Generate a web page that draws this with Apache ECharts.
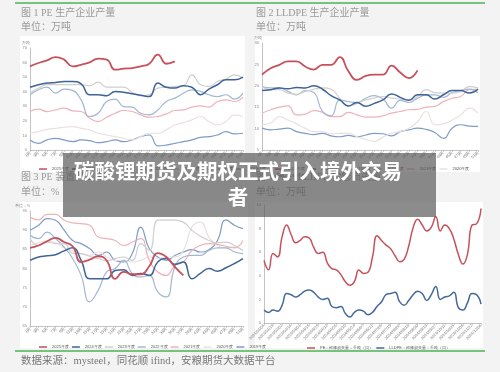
<!DOCTYPE html>
<html>
<head>
<meta charset="utf-8">
<script src="https://cdn.jsdelivr.net/npm/echarts@6/dist/echarts.min.js"></script>
<style>
html, body { margin: 0; padding: 0; background: #f3f3f3; }
#main { width: 500px; height: 372px; }
</style>
</head>
<body>
<div id="main"></div>
<script>
// 周度横轴
var weeks = ['1周','3周','5周','7周','9周','11周','13周','15周','17周','19周','21周','23周','25周',
	'27周','29周','31周','33周','35周','37周','39周','41周','43周','45周','47周','49周','51周'];
var years = ['2025年度','2024年度','2023年度','2022年度','2021年度','2020年度','2019年度'];

// 图1 PE 生产企业产量
var pe2025 = [57.4,59.7,61.5,63.8,62.0,57.4,58.5,60.1,62.7,62.0,55.1,55.8,56.2,57.4,59.2,65.4,59.2,60.8];
var pe2024 = [43.1,44.8,45.9,46.4,47.0,47.0,45.4,37.9,37.9,37.2,40.2,39.7,38.6,37.6,36.7,45.9,43.1,42.5,44.1,43.1,37.9,41.8,44.8,48.2,48.2,50.0];
var pe2023 = [39.0,42.5,44.8,44.8,44.8,44.8,44.8,44.1,46.6,43.1,43.1,43.1,39.5,37.2,37.9,42.5,43.1,43.6,44.1,51.6,44.8,43.6,47.0,48.7,51.6,49.3];
var pe2022 = [37.9,41.3,43.1,39.0,41.8,40.9,34.4,23.0,25.2,33.3,34.9,29.8,29.4,25.2,24.1,27.5,33.3,35.6,39.0,41.3,40.2,37.9,36.7,37.9,34.9,39.0];
var pe2021 = [26.4,28.0,26.4,27.5,28.7,26.9,26.4,21.8,19.5,22.5,25.2,27.1,26.4,24.1,22.5,23.0,24.8,27.1,27.5,29.4,30.3,29.4,33.3,34.4,33.3,36.3];
var pe2020 = [11.5,12.6,14.2,14.9,15.6,16.1,14.9,13.8,11.5,10.3,9.2,8.0,6.9,9.2,11.5,11.5,13.8,17.2,18.8,20.7,23.0,19.5,17.2,19.5,24.1,23.0];
var pe2019 = [6.9,4.6,6.9,8.0,6.9,5.7,6.9,6.4,5.0,5.7,6.9,5.7,6.9,9.2,10.3,2.8,3.4,4.6,5.7,6.9,8.7,9.2,10.3,12.6,11.0,11.5];

// 图2 LLDPE 生产企业产量
var ll2025 = [22.6,24.1,24.9,25.7,25.7,24.5,23.8,24.9,24.9,26.7,23.4,21.4,22.3,22.6,22.6,24.7,23.1,21.8,23.6];
var ll2024 = [18.9,19.1,19.5,19.3,19.6,19.5,20.0,19.2,17.7,16.7,15.3,16.1,15.2,15.9,16.7,18.1,17.3,16.6,17.9,17.9,16.9,17.9,18.9,18.9,18.3,19.2];
var ll2023 = [19.8,19.1,19.1,18.3,18.0,18.7,19.2,19.5,19.2,17.1,15.2,15.9,16.7,17.1,17.5,17.1,16.9,16.7,17.5,19.1,18.4,18.3,18.3,18.7,19.8,19.5];
var ll2022 = [19.8,19.5,19.5,18.7,17.9,18.9,18.4,14.0,13.0,16.7,16.3,16.1,17.1,17.7,16.9,14.8,16.6,16.1,17.1,17.9,17.9,17.3,18.4,18.9,19.2,18.3];
var ll2021 = [13.6,14.4,15.0,15.3,13.2,13.4,14.2,13.8,12.8,12.8,13.8,13.2,12.7,12.7,13.0,13.6,14.0,14.4,14.5,15.0,15.2,16.3,17.1,17.5,19.1,19.2];
var ll2020 = [10.9,11.3,12.8,12.0,11.1,10.1,9.3,9.3,8.8,8.9,8.9,8.1,7.5,7.0,8.0,8.9,9.3,10.1,11.6,14.0,10.9,11.1,12.0,13.2,14.8,13.6];
var ll2019 = [10.1,9.7,9.9,10.1,9.3,8.9,8.6,8.9,8.3,8.1,8.4,8.1,8.5,8.9,8.8,8.3,9.3,9.7,10.1,9.8,9.1,7.7,10.1,10.9,10.6,10.5];

// 图3 PE 装置开工率
var kg2025 = [85.4,86.0,87.1,88.0,86.9,85.8,81.7,82.3,83.2,82.1,77.3,79.1,78.5,78.5,80.6,84.0,83.0,80.4,78.2];
var kg2024 = [82.1,83.0,83.3,83.6,84.6,85.4,82.1,77.3,77.3,77.3,79.5,79.7,78.2,78.7,78.2,81.7,82.6,81.1,81.7,77.3,78.7,80.0,79.3,80.2,81.3,82.6];
var kg2023 = [87.8,86.0,86.9,86.5,86.5,84.0,83.9,83.2,82.6,82.0,82.6,83.0,82.1,86.5,84.7,92.6,92.6,92.6,92.1,90.0,88.4,87.3,86.7,86.9,86.0,84.7];
var kg2022 = [88.7,87.8,89.5,87.8,85.6,82.6,78.2,71.3,74.3,79.1,80.0,82.1,78.7,77.8,78.2,73.9,72.6,80.4,83.0,83.4,83.4,84.7,85.4,85.4,84.3,83.9];
var kg2021 = [93.4,92.7,94.1,94.1,92.6,91.9,91.7,91.3,88.2,87.8,87.3,86.0,86.9,87.8,82.1,79.1,78.2,80.8,81.7,84.7,86.0,86.5,86.3,85.8,85.4,87.3];
var kg2020 = [86.0,86.7,87.2,86.7,85.4,84.6,83.9,83.4,84.3,83.0,82.1,82.1,81.7,82.1,83.0,82.6,83.0,83.0,84.7,90.8,92.1,88.2,86.0,85.4,85.6,84.7];
var kg2019 = [90.0,91.3,93.0,92.6,90.0,87.3,86.5,85.2,83.4,84.3,82.1,81.7,83.9,90.8,85.2,83.0,82.1,83.4,84.3,84.9,84.3,84.9,87.3,92.7,91.3,90.4];

// 图4 检修损失量
var lossDates = ['2024/01/05','2024/01/12','2024/01/19','2024/01/26','2024/02/02','2024/02/09','2024/02/16','2024/02/23',
	'2024/03/01','2024/03/08','2024/03/15','2024/03/22','2024/03/29','2024/04/05','2024/04/12','2024/04/19','2024/04/26',
	'2024/05/03','2024/05/10','2024/05/17','2024/05/24','2024/05/31','2024/06/07','2024/06/14','2024/06/21','2024/06/28',
	'2024/07/05','2024/07/12','2024/07/19','2024/07/26','2024/08/02','2024/08/09','2024/08/16','2024/08/23','2024/08/30',
	'2024/09/06','2024/09/13','2024/09/20','2024/09/27','2024/10/04','2024/10/11','2024/10/18','2024/10/25','2024/11/01',
	'2024/11/08','2024/11/15','2024/11/22','2024/11/29','2024/12/06'];
var peLoss = [5.3,4.5,5.9,5.6,7.3,8.3,7.5,6.8,7.0,7.3,7.2,6.4,5.9,6.0,5.1,4.6,4.5,4.1,3.5,3.2,3.5,4.5,4.2,4.3,5.6,
	7.4,7.0,6.6,6.3,5.7,5.2,5.4,6.5,8.1,8.8,8.3,7.8,8.1,9.0,7.8,8.3,8.0,7.1,5.8,5.0,5.8,8.3,8.4,9.7];
var llLoss = [1.1,0.9,1.1,1.0,1.5,2.5,2.4,2.2,2.4,2.7,2.8,2.6,2.2,2.0,2.1,1.4,1.3,1.4,0.8,0.5,0.9,1.1,1.0,0.7,0.9,
	1.4,1.8,2.4,2.5,2.6,1.8,1.5,1.9,2.4,2.7,2.5,1.9,2.4,3.1,2.0,2.2,2.3,2.6,1.3,1.1,1.7,2.5,2.4,1.6];

var yearColors = ['#c6505b', '#3e6396', '#cfcfcf', '#a4b7d2', '#ecb3bb', '#ebe0e0', '#7e9cc6'];
var yearWidths = [1.8, 1.5, 1.2, 1.2, 1.2, 1.2, 1.2];

var myChart = echarts.init(document.getElementById('main'));

function seasonSeries(idx, list) {
	var out = [];
	for (var i = 0; i < list.length; i++) {
		out.push({
			name: years[i],
			type: 'line',
			xAxisIndex: idx,
			yAxisIndex: idx,
			data: list[i],
			smooth: true,
			showSymbol: false,
			z: 10 - i,
			itemStyle: { color: yearColors[i] },
			lineStyle: { color: yearColors[i], width: yearWidths[i] }
		});
	}
	return out;
}

function xAxisOf(idx, cats, every) {
	return {
		type: 'category',
		gridIndex: idx,
		data: cats,
		boundaryGap: false,
		axisLine: { lineStyle: { color: '#9a9a9a', width: 0.6 } },
		axisTick: { show: true, length: 2, interval: every, lineStyle: { color: '#aaa', width: 0.5 } },
		axisLabel: { rotate: 45, fontSize: 4, color: '#777', interval: every, margin: 2 }
	};
}

function yAxisOf(idx, min, max, step, unit) {
	return {
		type: 'value',
		gridIndex: idx,
		min: min,
		max: max,
		interval: step,
		name: unit,
		nameGap: 3,
		nameTextStyle: { fontSize: 3.5, color: '#888', align: 'right' },
		axisLine: { show: true, lineStyle: { color: '#9a9a9a', width: 0.6 } },
		axisTick: { show: false },
		axisLabel: { fontSize: 4, color: '#888', margin: 3 },
		splitLine: { show: false }
	};
}

function legendOf(left, top, names) {
	return {
		left: left,
		top: top,
		data: names,
		icon: 'rect',
		itemWidth: 8,
		itemHeight: 1.5,
		itemGap: 3,
		selectedMode: false,
		textStyle: { fontSize: 4, color: '#555' }
	};
}

var titleFont = "'Liberation Serif', 'Noto Sans CJK SC', serif";

function label(txt, x, y, size, color) {
	return {
		type: 'text', x: x, y: y, z: 5,
		style: { text: txt, fill: color, fontSize: size, fontFamily: titleFont, verticalAlign: 'middle' }
	};
}

var series = []
	.concat(seasonSeries(0, [pe2025, pe2024, pe2023, pe2022, pe2021, pe2020, pe2019]))
	.concat(seasonSeries(1, [ll2025, ll2024, ll2023, ll2022, ll2021, ll2020, ll2019]))
	.concat(seasonSeries(2, [kg2025, kg2024, kg2023, kg2022, kg2021, kg2020, kg2019]));

series.push({
	name: 'PE：检修损失量：千吨（周）', type: 'line', xAxisIndex: 3, yAxisIndex: 3,
	data: peLoss, smooth: true, showSymbol: false,
	itemStyle: { color: '#c4525c' }, lineStyle: { color: '#c4525c', width: 1.5 }
});
series.push({
	name: 'LLDPE：检修损失量：千吨（周）', type: 'line', xAxisIndex: 3, yAxisIndex: 3,
	data: llLoss, smooth: true, showSymbol: false,
	itemStyle: { color: '#46699c' }, lineStyle: { color: '#46699c', width: 1.5 }
});

option = {
	backgroundColor: '#f3f3f3',
	animation: false,
	grid: [
		{ left: 30, top: 48, width: 213, height: 102 },
		{ left: 262, top: 43, width: 216, height: 107 },
		{ left: 30, top: 211, width: 213, height: 115 },
		{ left: 264, top: 205, width: 217, height: 118 }
	],
	xAxis: [
		xAxisOf(0, weeks, 0),
		xAxisOf(1, weeks, 0),
		xAxisOf(2, weeks, 0),
		xAxisOf(3, lossDates, 1)
	],
	yAxis: [
		yAxisOf(0, 0, 70, 10, '万吨'),
		yAxisOf(1, 5, 30, 5, '万吨'),
		yAxisOf(2, 65, 95, 5, '单位：%'),
		yAxisOf(3, 0, 10, 2, '')
	],
	legend: [
		legendOf(34, 162, years),
		legendOf(270, 162, years),
		legendOf(34, 340, years),
		legendOf(302, 341, ['PE：检修损失量：千吨（周）', 'LLDPE：检修损失量：千吨（周）'])
	],
	graphic: [
		{ type: 'rect', z: -10, shape: { x: 20, y: 36, width: 225, height: 136 }, style: { fill: '#ffffff' } },
		{ type: 'rect', z: -10, shape: { x: 255, y: 36, width: 225, height: 136 }, style: { fill: '#ffffff' } },
		{ type: 'rect', z: -10, shape: { x: 20, y: 202, width: 228, height: 146 }, style: { fill: '#ffffff' } },
		{ type: 'rect', z: -10, shape: { x: 255, y: 202, width: 228, height: 146 }, style: { fill: '#ffffff' } },
		{ type: 'line', z: 5, shape: { x1: 15, y1: 3, x2: 485, y2: 3 }, style: { stroke: '#4cb455', lineWidth: 1.5 } },
		{ type: 'line', z: 5, shape: { x1: 15, y1: 351, x2: 485, y2: 351 }, style: { stroke: '#4cb455', lineWidth: 1.5 } },
		label('图 1 PE 生产企业产量', 21, 13, 10, '#999999'),
		label('单位：万吨', 21, 27, 10, '#999999'),
		label('图 2 LLDPE 生产企业产量', 256, 13, 10, '#999999'),
		label('单位：万吨', 256, 27, 10, '#999999'),
		label('图 3 PE 装置开工率', 21, 177, 10, '#999999'),
		label('单位：%', 21, 192, 10, '#999999'),
		label('图 4 PE、LLDPE 检修损失量', 256, 177, 10, '#999999'),
		label('单位：万吨', 256, 192, 10, '#999999'),
		label('数据来源：mysteel，同花顺 ifind，安粮期货大数据平台', 21, 361, 10.5, '#777777'),
		{ type: 'rect', z: 100, shape: { x: 63, y: 153, width: 373, height: 64 }, style: { fill: 'rgba(85,85,85,0.68)' } },
		{
			type: 'text', z: 101, x: 238, y: 171,
			style: { text: '碳酸锂期货及期权正式引入境外交易', fill: '#ffffff', fontSize: 20.5, fontWeight: 'bold',
				fontFamily: 'Noto Sans CJK SC', textAlign: 'center', verticalAlign: 'middle' }
		},
		{
			type: 'text', z: 101, x: 238, y: 197,
			style: { text: '者', fill: '#ffffff', fontSize: 20.5, fontWeight: 'bold',
				fontFamily: 'Noto Sans CJK SC', textAlign: 'center', verticalAlign: 'middle' }
		}
	],
	series: series
};
myChart.setOption(option, true);
</script>
</body>
</html>
